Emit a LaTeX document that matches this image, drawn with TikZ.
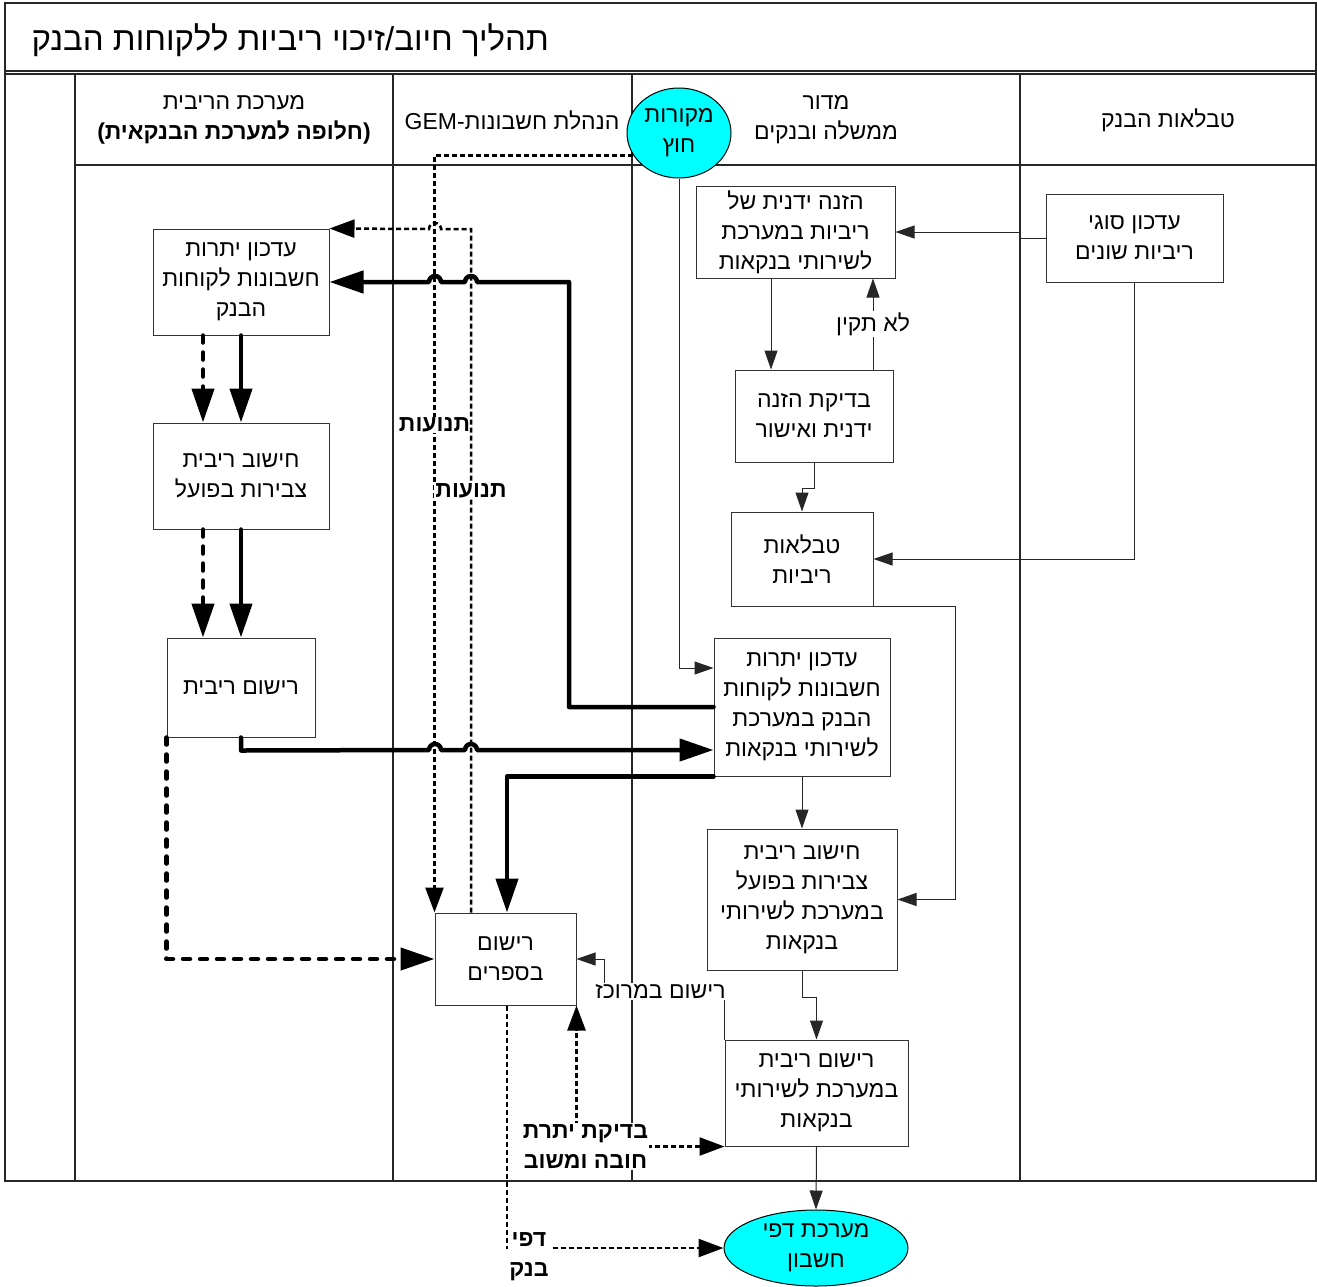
\documentclass[tikz,border=0pt]{standalone}
\usepackage{fontspec}
\setmainfont{Liberation Sans}
\newfontfamily\hebfont[Script=Hebrew]{Liberation Sans}
\newfontfamily\latinfont{Liberation Sans}
\TeXXeTstate=1
\usetikzlibrary{arrows.meta,shapes.geometric}
\newcommand\hb[1]{\beginR#1\endR}
\definecolor{srccyan}{RGB}{0,255,255}

\tikzset{
  frame/.style={line width=1.5pt, draw=black!85},
  lane/.style={line width=1.3pt, draw=black!85},
  txt/.style={font=\hebfont\fontsize{23}{30}\selectfont, align=center},
  box/.style={txt, draw=black!80, line width=1pt, fill=white, inner sep=0pt},
  oval/.style={txt, ellipse, draw=black, line width=1pt, fill=srccyan, inner sep=0pt},
  thinarr/.style={line width=1pt, draw=black!85, -{Triangle[length=19pt,width=13pt]}},
  thickarr/.style={line width=4.5pt, line cap=round, line join=round, -{Triangle[length=34pt,width=22pt]}},
  thickdash/.style={thickarr, dash pattern=on 7pt off 10pt},
  dotarr/.style={line width=2.5pt, dash pattern=on 5pt off 3pt, -{Triangle[length=25pt,width=18pt]}},
  lbl/.style={txt, fill=white, inner sep=1pt},
  blbl/.style={lbl, font=\hebfont\bfseries\fontsize{23}{30}\selectfont}
}

\begin{document}
\begin{tikzpicture}[x=1pt,y=-1pt]
\useasboundingbox (0,0) rectangle (1317,1286);

% frame, title row and lanes
\draw[frame] (5,3) rectangle (1316,1181);
\draw[frame] (5,71) -- (1316,71);
\draw[frame] (5,74) -- (1316,74);
\foreach \x in {75,393,632,1020} \draw[lane] (\x,74) -- (\x,1181);
\draw[lane] (75,165) -- (1316,165);

\node[txt, anchor=west, font=\hebfont\fontsize{33}{38}\selectfont] (title) at (28,40)
  {\hb{תהליך חיוב/זיכוי ריביות ללקוחות הבנק}};

% lane headers
\node[txt] (h1) at (234,120) {\hb{מערכת הריבית}\\{\bfseries\hb{(חלופה למערכת הבנקאית)}}};
\node[txt] (h2) at (512,120) {\hb{הנהלת חשבונות-\beginL{\latinfont GEM}\endL}};
\node[txt] (h3) at (826,120) {\hb{מדור}\\\hb{ממשלה ובנקים}};
\node[txt] (h4) at (1168,120) {\hb{טבלאות הבנק}};

% interest system lane
\node[box, minimum width=176pt, minimum height=106pt] (A1) at (241,282)
  {\hb{עדכון יתרות}\\\hb{חשבונות לקוחות}\\\hb{הבנק}};
\node[box, minimum width=176pt, minimum height=106pt] (A2) at (241,476)
  {\hb{חישוב ריבית}\\\hb{צבירות בפועל}};
\node[box, minimum width=148pt, minimum height=99pt] (A3) at (241,687.5)
  {\hb{רישום ריבית}};

% accounting lane
\node[box, minimum width=141pt, minimum height=92pt] (B1) at (505.5,959)
  {\hb{רישום}\\\hb{בספרים}};

% government and banks section lane
\node[box, minimum width=199pt, minimum height=92pt] (C1) at (795.5,232)
  {\hb{הזנה ידנית של}\\\hb{ריביות במערכת}\\\hb{לשירותי בנקאות}};
\node[box, minimum width=158pt, minimum height=92pt] (C2) at (814,416)
  {\hb{בדיקת הזנה}\\\hb{ידנית ואישור}};
\node[box, minimum width=142pt, minimum height=94pt] (C3) at (802,559)
  {\hb{טבלאות}\\\hb{ריביות}};
\node[box, minimum width=176pt, minimum height=138pt] (C4) at (802,707)
  {\hb{עדכון יתרות}\\\hb{חשבונות לקוחות}\\\hb{הבנק במערכת}\\\hb{לשירותי בנקאות}};
\node[box, minimum width=190pt, minimum height=141pt] (C5) at (802,899.5)
  {\hb{חישוב ריבית}\\\hb{צבירות בפועל}\\\hb{במערכת לשירותי}\\\hb{בנקאות}};
\node[box, minimum width=183pt, minimum height=106pt] (C6) at (816.5,1093)
  {\hb{רישום ריבית}\\\hb{במערכת לשירותי}\\\hb{בנקאות}};

% bank tables lane
\node[box, minimum width=177pt, minimum height=88pt] (D1) at (1134.5,238)
  {\hb{עדכון סוגי}\\\hb{ריביות שונים}};

% terminals
\node[oval, minimum width=104pt, minimum height=90pt] (E1) at (679,133)
  {\hb{מקורות}\\\hb{חוץ}};
\node[oval, minimum width=184pt, minimum height=76pt] (E2) at (816,1248)
  {\hb{מערכת דפי}\\\hb{חשבון}};

% thin flow
\draw[thinarr] (D1.west) -- ++(-26,0) |- (C1.east);
\draw[thinarr] (D1.south) |- (C3.east);
\draw[thinarr] ([xshift=-24.5pt]C1.south) -- ([xshift=-24.5pt]C1.south |- C2.north);
\draw[thinarr] ([xshift=59pt]C2.north) -- node[lbl]{\hb{לא תקין}} ([xshift=59pt]C2.north |- C1.south);
\draw[thinarr] (C2.south) -- ++(0,26) -| (C3.north);
\draw[thinarr] (C3.south east) -- ++(82,0) |- (C5.east);
\draw[thinarr] (E1.south) |- ([yshift=39pt]C4.west);
\draw[thinarr] (C4.south) -- (C5.north);
\draw[thinarr] (C5.south) -- ++(0,27) -| (C6.north);
\draw[thinarr] (C6.north west) -- ++(0,-48) -- node[lbl, xshift=-4pt]{\hb{רישום במרוכז}} ++(-120,0) |- (B1.east);
\draw[thinarr] (C6.south) -- (E2.north);

% thick flow
\draw[thickarr] (C4.west) -- (569,707) -- (569,282) -- (477,282)
  arc[start angle=0,end angle=180,radius=6pt] -- (441,282)
  arc[start angle=0,end angle=180,radius=6pt] -- (A1.east);
\draw[thickarr] (A3.south) -- ++(0,13) -- (429,750)
  arc[start angle=180,end angle=0,radius=6pt] -- (465,750)
  arc[start angle=180,end angle=0,radius=6pt] -- ([yshift=-43pt]C4.west);
\draw[thickarr] (C4.south west) -| ([xshift=1.5pt]B1.north);
\draw[thickarr] (A1.south) -- (A2.north);
\draw[thickarr] (A2.south) -- (A3.north);
\draw[thickdash] ([xshift=-38pt]A1.south) -- ([xshift=-38pt]A2.north);
\draw[thickdash] ([xshift=-38pt]A2.south) -- ([xshift=-38pt]A3.north);
\draw[thickdash] (A3.south west) |- (B1.west);

% transaction flow
\draw[dotarr] (E1.206) -| node[blbl, pos=0.678]{\hb{תנועות}} (B1.north west);
\draw[dotarr] ([xshift=-34.5pt]B1.north) -- node[blbl, pos=0.617]{\hb{תנועות}} (471,229) -- (441,229)
  arc[start angle=0,end angle=180,radius=6pt] -- (A1.north east);
\draw[dotarr] ([xshift=1.5pt]B1.south) |- node[blbl, pos=0.5, xshift=22pt, yshift=-9pt]{\hb{דפי}\\\hb{בנק}} (E2.west);
\draw[dotarr, {Triangle[length=25pt,width=18pt]}-{Triangle[length=25pt,width=18pt]}] (C6.south west) -| node[blbl, pos=0.5, xshift=9pt]{\hb{בדיקת יתרת}\\\hb{חובה ומשוב}} (B1.south east);
\end{tikzpicture}
\end{document}
